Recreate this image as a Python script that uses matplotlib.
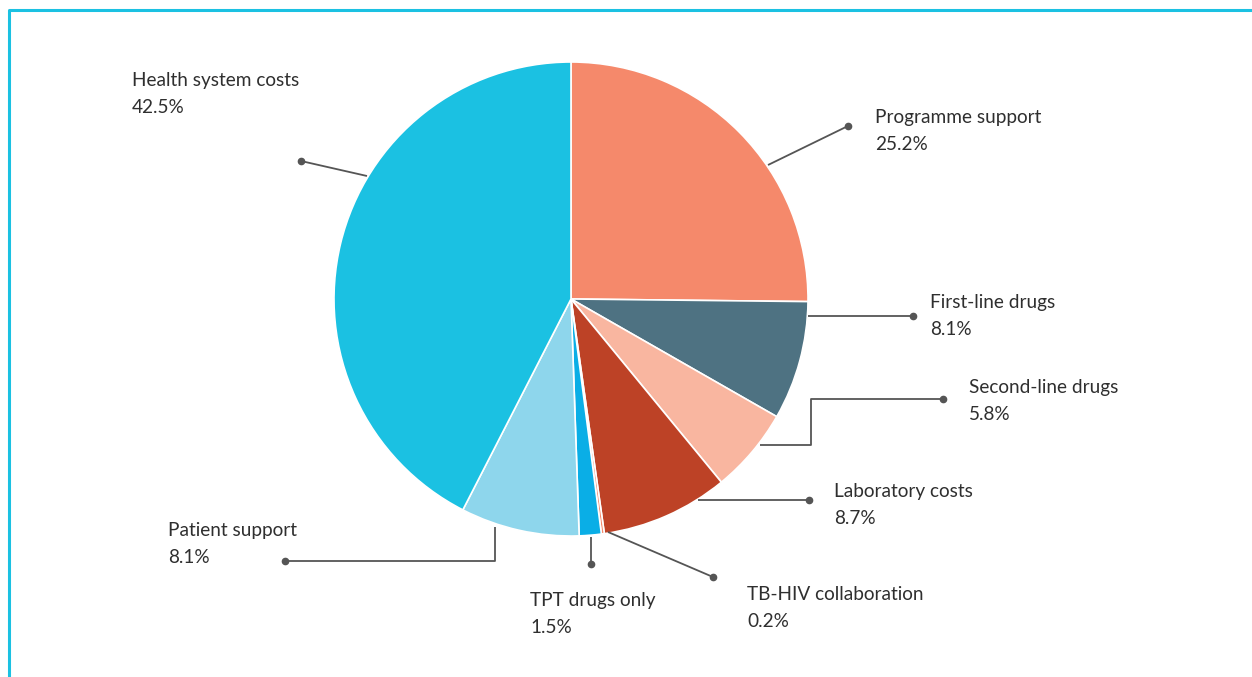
import matplotlib
matplotlib.use("Agg")
import matplotlib.pyplot as plt

labels = ["Programme support", "First-line drugs", "Second-line drugs",
          "Laboratory costs", "TB-HIV collaboration", "TPT drugs only",
          "Patient support", "Health system costs"]
values = [25.2, 8.1, 5.8, 8.7, 0.2, 1.5, 8.1, 42.5]
colors = ["#F5896B", "#4E7282", "#F9B6A0", "#BD4226", "#F5896B",
          "#0AAEE6", "#8ED6EC", "#1BC1E2"]

W, H = 1252, 677
fig = plt.figure(figsize=(W / 100, H / 100), dpi=100)
ax = fig.add_axes([0, 0, 1, 1])

def Y(y):
    return H - y

cx, cy, r = 571, 299, 237
ax.pie(values, colors=colors, startangle=90, counterclock=False,
       center=(cx, Y(cy)), radius=r, frame=True,
       wedgeprops=dict(edgecolor="white", linewidth=1.2))
ax.set_xlim(0, W)
ax.set_ylim(0, H)
ax.set_aspect("equal")
ax.axis("off")

# frame
ax.plot([9, 9, W + 5], [Y(H + 5), Y(10), Y(10)], color="#1BC1E2", lw=2.2,
        solid_capstyle="butt", clip_on=False)

# leader lines (pixel coords) and label positions
leaders = [
    [(768, 165), (848, 126)],
    [(808, 316), (913, 316)],
    [(760, 445), (811, 445), (811, 399), (943, 399)],
    [(698, 500), (809, 500)],
    [(608, 532), (713, 577)],
    [(591, 537), (591, 564)],
    [(495, 527), (495, 561), (285, 561)],
    [(367, 176), (301, 161)],
]
text_pos = [(875, 131), (930, 316), (969, 401), (834, 505), (747, 608),
            (530, 614), (168, 544), (132, 94)]

lc = "#555555"
for pts, lab, val, tp in zip(leaders, labels, values, text_pos):
    xs = [p[0] for p in pts]
    ys = [Y(p[1]) for p in pts]
    ax.plot(xs, ys, color=lc, lw=1.3, solid_capstyle="butt")
    ax.plot(xs[-1], ys[-1], "o", color=lc, ms=4.5)
    ax.text(tp[0], Y(tp[1]), f"{lab}\n{val}%", ha="left", va="center",
            fontsize=13.7, family="Lato", color="#2f2f2f", linespacing=1.75)

fig.savefig("out.png", dpi=100)
